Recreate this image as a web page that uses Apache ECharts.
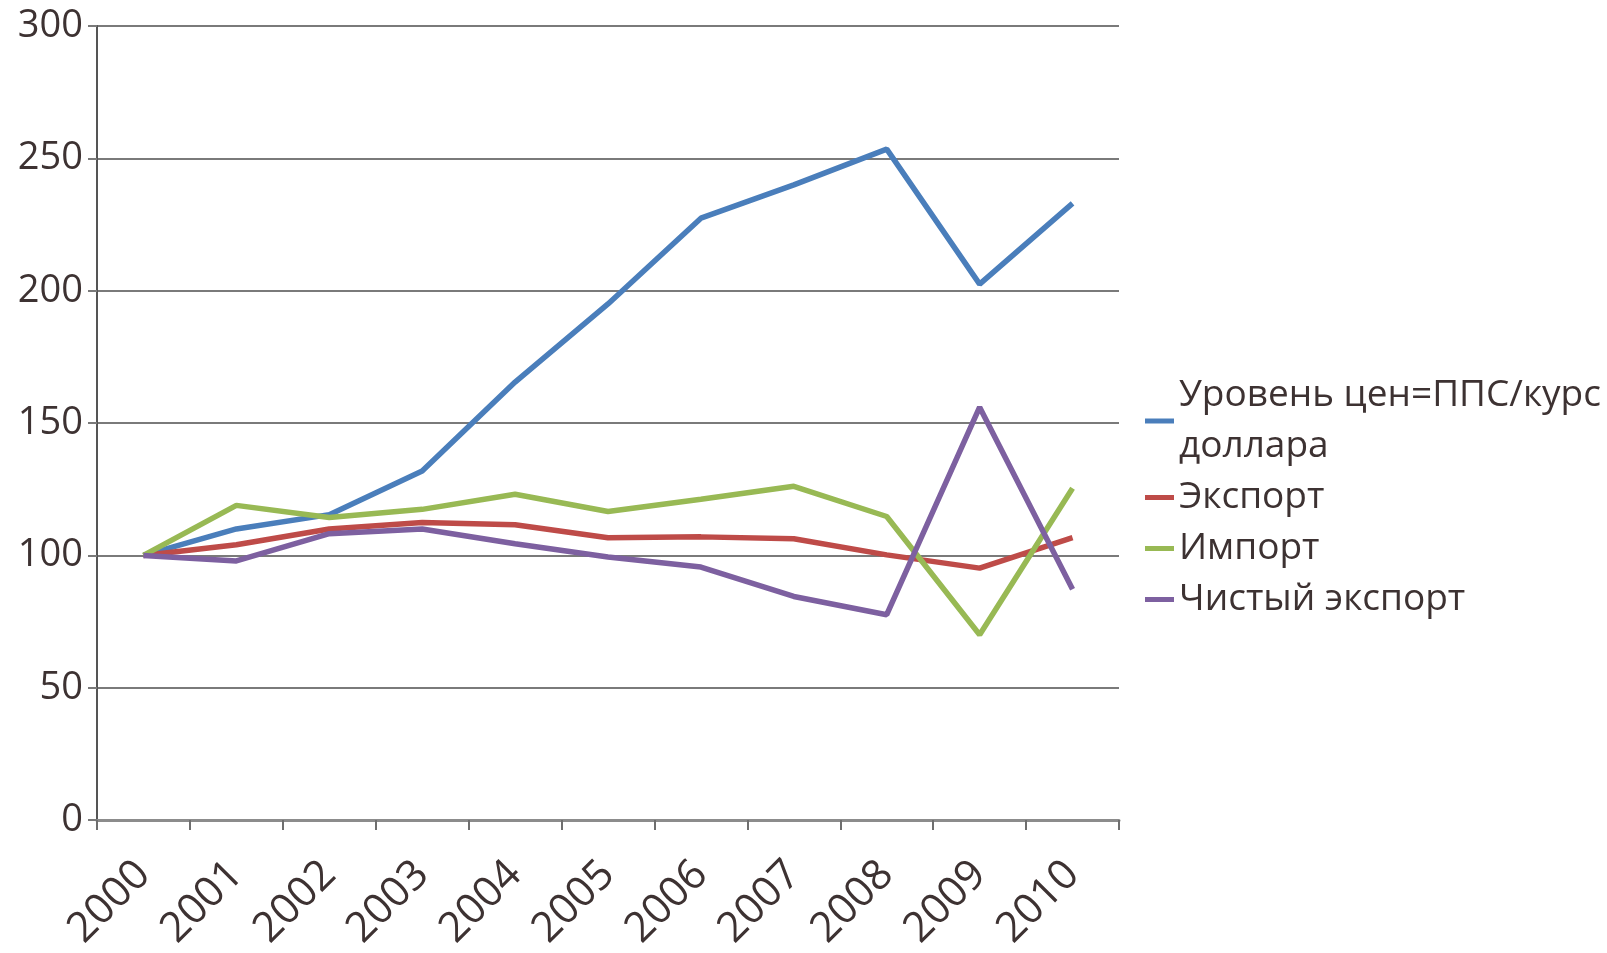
<!DOCTYPE html>
<html><head><meta charset="utf-8">
<script src="https://cdn.jsdelivr.net/npm/echarts@6/dist/echarts.min.js"></script>
<style>html,body{margin:0;padding:0;background:#fff}#c{width:1607px;height:953px}</style>
</head><body><div id="c"></div>
<script>
const years = ['2000','2001','2002','2003','2004','2005','2006','2007','2008','2009','2010'];
const priceLevel = [100, 110, 115.4, 131.9, 165.5, 195, 227.4, 240, 253.5, 202.5, 233];
const exportIdx = [100, 104, 110, 112.4, 111.6, 106.7, 107, 106.3, 100.2, 95.2, 106.7];
const importIdx = [100, 118.9, 114.3, 117.4, 123.1, 116.6, 121.2, 126.1, 114.7, 70, 125.4];
const netExport = [100, 97.9, 108.2, 110, 104.4, 99.4, 95.6, 84.5, 77.6, 156, 87.2];
const names = ['Уровень цен=ППС/курс\nдоллара', 'Экспорт', 'Импорт', 'Чистый экспорт'];
const colors = ['#4A7EBB', '#BE4B48', '#98B954', '#7D60A0'];
const yTicks = {min: 0, max: 300, interval: 50};

const font = '"Open Sans", "Noto Sans", sans-serif';
const mk = (name, data, color) => ({
  name, type: 'line', data, showSymbol: false, symbol: 'none',
  lineStyle: {color, width: 5.5}, itemStyle: {color}, animation: false
});
const chart = echarts.init(document.getElementById('c'));
chart.setOption({
  backgroundColor: '#fff',
  animation: false,
  grid: {left: 97, top: 26, right: 488, bottom: 122, containLabel: false},
  xAxis: {
    type: 'category', data: years, boundaryGap: true,
    axisLine: {lineStyle: {color: '#8c8c8c', width: 3}},
    axisTick: {show: true, length: 10, lineStyle: {color: '#6e6e6e', width: 2}},
    axisLabel: {rotate: 45, fontSize: 42, color: '#3d3232', fontFamily: font, margin: 48}
  },
  yAxis: {
    type: 'value', min: yTicks.min, max: yTicks.max, interval: yTicks.interval,
    axisLine: {show: true, lineStyle: {color: '#555', width: 2}},
    axisTick: {show: true, length: 9, lineStyle: {color: '#7a7a7a', width: 2}},
    splitLine: {lineStyle: {color: '#7a7a7a', width: 2}},
    axisLabel: {fontSize: 38, color: '#3d3232', fontFamily: font, margin: 14}
  },
  legend: {
    orient: 'vertical', left: 1140, top: 365,
    icon: 'rect', itemWidth: 29, itemHeight: 5, itemGap: 0,
    textStyle: {fontSize: 37, color: '#3d3232', fontFamily: font, lineHeight: 51},
    data: names
  },
  series: [
    mk(names[0], priceLevel, colors[0]),
    mk(names[1], exportIdx, colors[1]),
    mk(names[2], importIdx, colors[2]),
    mk(names[3], netExport, colors[3])
  ]
});
</script></body></html>
